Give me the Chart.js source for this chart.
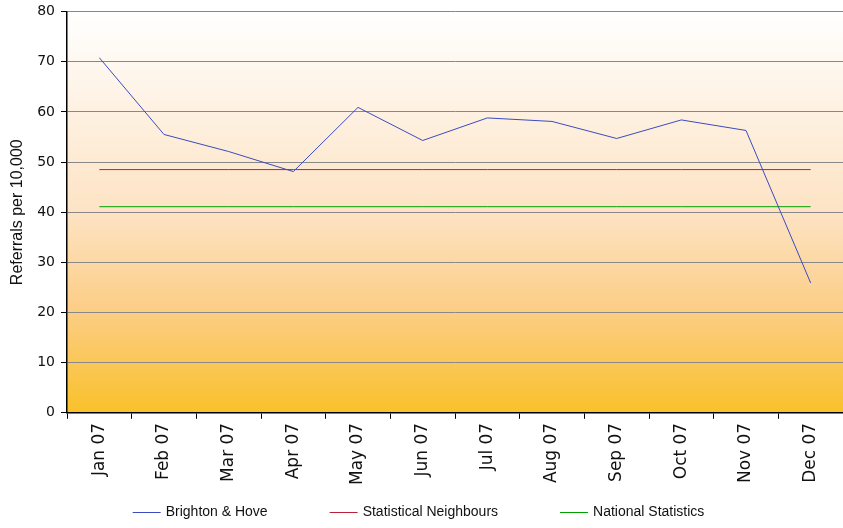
<!DOCTYPE html>
<html>
<head>
<meta charset="utf-8">
<script src="https://cdn.jsdelivr.net/npm/chart.js@4"></script>
<style>
  html, body { margin: 0; padding: 0; background: #fff; }
  #wrap { width: 843px; height: 528px; }
</style>
</head>
<body>
<div id="wrap"><canvas id="myChart" width="843" height="528"></canvas></div>
<script>
const months = ["Jan 07", "Feb 07", "Mar 07", "Apr 07", "May 07", "Jun 07",
                "Jul 07", "Aug 07", "Sep 07", "Oct 07", "Nov 07", "Dec 07"];
const brightonHove = [70.8, 55.5, 52.1, 48.1, 60.9, 54.3, 58.8, 58.1, 54.7, 58.4, 56.3, 25.9];
const statNeighbours = [48.5, 48.5, 48.5, 48.5, 48.5, 48.5, 48.5, 48.5, 48.5, 48.5, 48.5, 48.5];
const nationalStats = [41.1, 41.1, 41.1, 41.1, 41.1, 41.1, 41.1, 41.1, 41.1, 41.1, 41.1, 41.1];

// gradient fill behind the plot area
const plotBackground = {
    id: 'plotBackground',
    beforeDraw(chart) {
        const { ctx, chartArea: a } = chart;
        const g = ctx.createLinearGradient(0, a.top, 0, a.bottom);
        g.addColorStop(0, '#FFFFFF');
        g.addColorStop(0.5, '#FDE3C4');
        g.addColorStop(0.75, '#FCCD84');
        g.addColorStop(1, '#F9C12A');
        ctx.save();
        ctx.fillStyle = g;
        ctx.fillRect(a.left, a.top, a.right - a.left, a.bottom - a.top);
        ctx.restore();
    }
};

// legend drawn by hand so the item spacing can match the original
const wideLegend = {
    id: 'wideLegend',
    afterDraw(chart) {
        const { ctx } = chart;
        const sets = chart.data.datasets;
        const lineLen = 28, gap = 5, itemGap = 62;
        ctx.save();
        ctx.font = '14px "Liberation Sans"';
        ctx.textBaseline = 'middle';
        const widths = sets.map(d => lineLen + gap + ctx.measureText(d.label).width);
        const total = widths.reduce((s, w) => s + w, 0) + itemGap * (sets.length - 1);
        let x = (chart.width - total) / 2 - 3;
        const y = 512.5;
        sets.forEach((d, i) => {
            ctx.strokeStyle = d.borderColor;
            ctx.lineWidth = 1;
            ctx.beginPath();
            ctx.moveTo(x, y);
            ctx.lineTo(x + lineLen, y);
            ctx.stroke();
            ctx.fillStyle = '#111';
            ctx.fillText(d.label, x + lineLen + gap, y);
            x += widths[i] + itemGap;
        });
        ctx.restore();
    }
};

const ctx = document.getElementById('myChart');
new Chart(ctx, {
    type: 'line',
    data: {
        labels: months,
        datasets: [
            { label: "Brighton & Hove", data: brightonHove, borderColor: '#3A4CC0', backgroundColor: '#3A4CC0', borderWidth: 1, pointRadius: 0, tension: 0 },
            { label: "Statistical Neighbours", data: statNeighbours, borderColor: '#B8233A', backgroundColor: '#B8233A', borderWidth: 1, pointRadius: 0 },
            { label: "National Statistics", data: nationalStats, borderColor: '#00A000', backgroundColor: '#00A000', borderWidth: 1, pointRadius: 0 }
        ]
    },
    options: {
        responsive: false,
        animation: false,
        layout: { padding: { top: 0, right: 0, left: 4, bottom: 39 } },
        scales: {
            x: {
                offset: true,
                grid: { offset: true, drawOnChartArea: false, color: '#000', tickLength: 6, tickColor: '#000' },
                border: { color: '#000', width: 1.5 },
                ticks: { minRotation: 90, maxRotation: 90, color: '#111', font: { family: 'DejaVu Sans', size: 17 }, padding: 4 }
            },
            y: {
                min: 0,
                max: 80,
                ticks: { stepSize: 10, color: '#111', font: { family: 'DejaVu Sans', size: 14, lineHeight: 0.8 }, padding: 6 },
                grid: { color: '#888', tickColor: '#000', tickLength: 6 },
                border: { color: '#000', width: 1.5 },
                title: { display: true, text: "Referrals per 10,000", color: '#111', font: { family: 'Liberation Sans', size: 16 }, padding: 4 }
            }
        },
        plugins: {
            legend: { display: false },
            tooltip: { enabled: false }
        }
    },
    plugins: [plotBackground, wideLegend]
});
</script>
</body>
</html>
